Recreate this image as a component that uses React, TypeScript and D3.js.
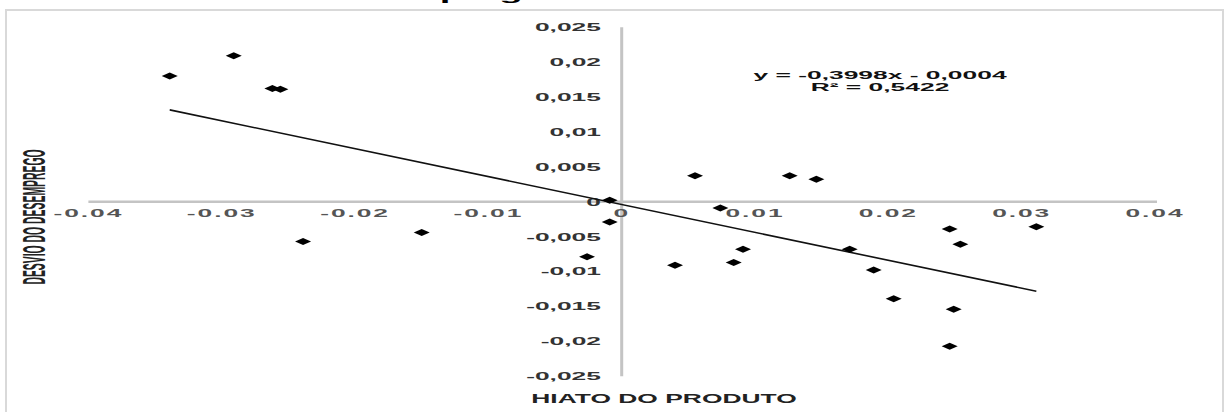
import * as d3 from "d3";

// hiato do produto (x) vs desvio do desemprego (y)
const hiato = [
  -0.0339, -0.0291, -0.0262, -0.0256, -0.0239, -0.015, -0.0026, -0.0009,
  -0.0009, 0.004, 0.0055, 0.0074, 0.0084, 0.0091, 0.0126, 0.0146, 0.0171,
  0.0189, 0.0204, 0.0246, 0.0254, 0.0249, 0.0246, 0.0311,
];
const desvio = [
  0.018, 0.0209, 0.0162, 0.0161, -0.0057, -0.0044, -0.0079, 0.0002, -0.0029,
  -0.0091, 0.0037, -0.0009, -0.0087, -0.0068, 0.0037, 0.0032, -0.0068,
  -0.0098, -0.0139, -0.0039, -0.0061, -0.0154, -0.0207, -0.0036,
];

const xTicks = [-0.04, -0.03, -0.02, -0.01, 0, 0.01, 0.02, 0.03, 0.04];
const xTickLabels = ["-0.04", "-0.03", "-0.02", "-0.01", "0", "0.01", "0.02", "0.03", "0.04"];
const yTicks = [0.025, 0.02, 0.015, 0.01, 0.005, 0, -0.005, -0.01, -0.015, -0.02, -0.025];
const yTickLabels = ["0,025", "0,02", "0,015", "0,01", "0,005", "0", "-0,005", "-0,01", "-0,015", "-0,02", "-0,025"];

const slope = -0.3998;
const intercept = -0.0004;
const equation = "y = -0,3998x - 0,0004";
const rSquared = "R² = 0,5422";

const font = "'Liberation Sans', Arial, sans-serif";
const sx = 2.4; // the picture is stretched sideways

export default function App() {
  const width = 1226;
  const height = 412;

  const x = d3.scaleLinear().domain([-0.04, 0.04]).range([88.4, 1155]);
  const y = d3.scaleLinear().domain([-0.025, 0.025]).range([376.2, 27.2]);

  const [xMin, xMax] = d3.extent(hiato) as [number, number];
  const trend =
    d3.line<number>()
      .x((d) => x(d))
      .y((d) => y(slope * d + intercept))([xMin, xMax]) || "";

  const diamond = "M0,-3.5L8,0L0,3.5L-8,0Z";

  return (
    <svg
      width={width}
      height={height}
      style={{ position: "absolute", left: 0, top: 0, background: "#fff" }}
      fontFamily={font}
    >
      {/* title, cut off at the top of the picture */}
      <text
        transform={`translate(318, -0.5) scale(${sx}, 1)`}
        fontSize={16}
        fontWeight="bold"
        fill="#000"
      >
        desemprego
      </text>

      <rect x={6} y={10} width={1217} height={410} fill="none" stroke="#d9d9d9" strokeWidth={2} />

      {/* axes */}
      <line x1={x(-0.04)} x2={x(0.04) + 2} y1={y(0)} y2={y(0)} stroke="#c4c4c4" strokeWidth={2.5} />
      <line x1={x(0)} x2={x(0)} y1={y(0.025)} y2={y(-0.025)} stroke="#c4c4c4" strokeWidth={3} />

      {yTicks.map((t, i) => (
        <text
          key={"y" + i}
          transform={`translate(601, ${y(t)}) scale(${sx}, 1)`}
          textAnchor="end"
          dy="0.36em"
          fontSize={11}
          fontWeight="bold"
          fill="#333"
        >
          {yTickLabels[i]}
        </text>
      ))}

      {xTicks.map((t, i) => (
        <text
          key={"x" + i}
          transform={`translate(${x(t)}, 217) scale(${sx}, 1)`}
          textAnchor="middle"
          fontSize={11}
          fontWeight="bold"
          letterSpacing={0.8}
          fill="#555"
        >
          {xTickLabels[i]}
        </text>
      ))}

      <path d={trend} fill="none" stroke="#111" strokeWidth={1.6} />

      {hiato.map((h, i) => (
        <path key={"p" + i} d={diamond} transform={`translate(${x(h)}, ${y(desvio[i])})`} fill="#000" />
      ))}

      <text transform={`translate(880, 79) scale(${sx}, 1)`} textAnchor="middle" fontSize={11} fontWeight="bold" fill="#111">
        {equation}
      </text>
      <text transform={`translate(880, 91) scale(${sx}, 1)`} textAnchor="middle" fontSize={11} fontWeight="bold" fill="#111">
        {rSquared}
      </text>

      <text transform={`translate(664, 403) scale(2.2, 1)`} textAnchor="middle" fontSize={12} fontWeight="bold" fill="#222">
        HIATO DO PRODUTO
      </text>
      <text
        transform={`translate(45, 217) scale(3, 1) rotate(-90)`}
        textAnchor="middle"
        fontSize={10.4}
        fontWeight="bold"
        fill="#222"
      >
        DESVIO DO DESEMPREGO
      </text>
    </svg>
  );
}
